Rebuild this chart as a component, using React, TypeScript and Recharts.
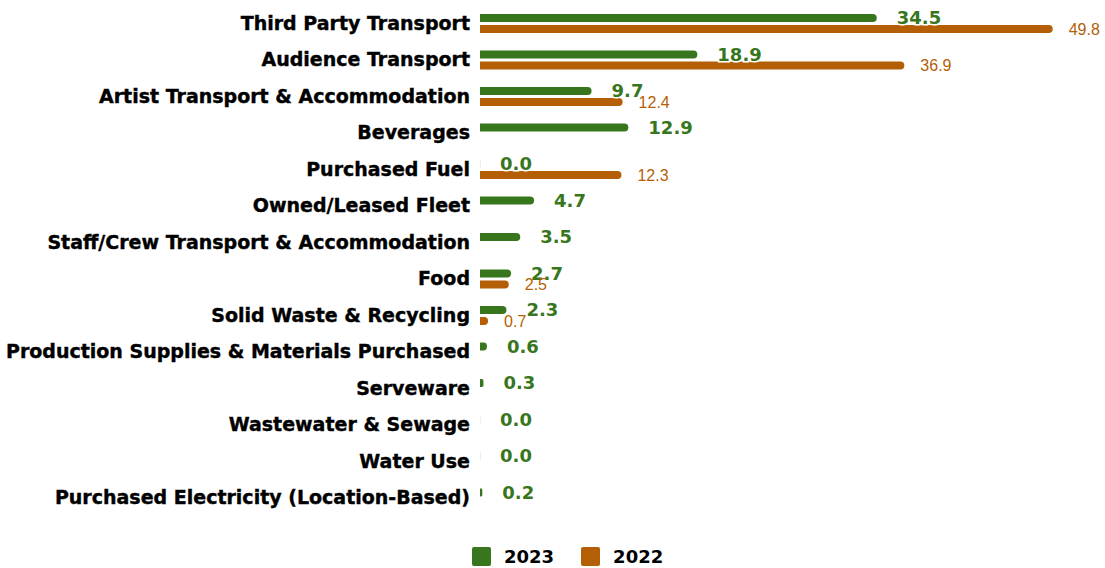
import React from 'react';
import { BarChart, Bar, XAxis, YAxis, Legend, LabelList } from 'recharts';

const categories = [
  'Third Party Transport',
  'Audience Transport',
  'Artist Transport & Accommodation',
  'Beverages',
  'Purchased Fuel',
  'Owned/Leased Fleet',
  'Staff/Crew Transport & Accommodation',
  'Food',
  'Solid Waste & Recycling',
  'Production Supplies & Materials Purchased',
  'Serveware',
  'Wastewater & Sewage',
  'Water Use',
  'Purchased Electricity (Location-Based)',
];

const values2023 = [34.5, 18.9, 9.7, 12.9, 0.0, 4.7, 3.5, 2.7, 2.3, 0.6, 0.3, 0.0, 0.0, 0.2];
const values2022 = [49.8, 36.9, 12.4, null, 12.3, null, null, 2.5, 0.7, null, null, null, null, null];

const legendOrder = ['2023', '2022'];

const GREEN = '#38761d';
const ORANGE = '#b45f06';
const BOLD_FONT = '"DejaVu Sans", sans-serif';

const chartData = categories.map((name, i) => ({
  name,
  y2023: values2023[i],
  y2022: values2022[i],
}));

const fmt = (v: any) => (v === null || v === undefined ? '' : Number(v).toFixed(1));

// zero values still need a (invisible) bar so the "0.0" label gets drawn
const zeroMin = (v: any) => (v === 0 ? 0.1 : 0);

const LegendContent = (props: any) => {
  const items = [...(props.payload || [])].sort(
    (a: any, b: any) => legendOrder.indexOf(a.value) - legendOrder.indexOf(b.value)
  );
  return (
    <div style={{ display: 'flex', justifyContent: 'flex-start', alignItems: 'center', gap: 27, paddingLeft: 472 }}>
      {items.map((entry: any) => (
        <div key={entry.value} style={{ display: 'flex', alignItems: 'center', gap: 13 }}>
          <span style={{ width: 19, height: 19, borderRadius: 2, background: entry.color, display: 'inline-block' }} />
          <span style={{ fontFamily: BOLD_FONT, fontWeight: 'bold', fontSize: 18, color: '#000' }}>{entry.value}</span>
        </div>
      ))}
    </div>
  );
};

export default function App() {
  return (
    <div style={{ position: 'absolute', left: 0, top: 0, background: '#fff' }}>
      <BarChart
        width={1105}
        height={568}
        data={chartData}
        layout="vertical"
        margin={{ top: 5, right: 50, left: 0, bottom: 31 }}
        barSize={8}
        barGap={3}
      >
        <XAxis type="number" domain={[0, 50]} hide />
        <YAxis
          type="category"
          dataKey="name"
          width={480}
          interval={0}
          axisLine={false}
          tickLine={false}
          tickMargin={4}
          tick={{ fill: '#000', fontSize: 19, fontWeight: 'bold', fontFamily: BOLD_FONT, stroke: '#000', strokeWidth: 0.4 }}
        />
        <Legend
          verticalAlign="bottom"
          content={<LegendContent />}
          wrapperStyle={{ top: 546, bottom: 'auto', left: 0, width: 1105 }}
        />
        <Bar dataKey="y2023" name="2023" fill={GREEN} radius={[0, 4, 4, 0]} minPointSize={zeroMin} isAnimationActive={false}>
          <LabelList
            dataKey="y2023"
            position="right"
            offset={20}
            formatter={fmt}
            style={{
              fill: GREEN,
              fontSize: 18,
              fontWeight: 'bold',
              fontFamily: BOLD_FONT,
              stroke: '#fff',
              strokeWidth: 3,
              paintOrder: 'stroke',
            }}
          />
        </Bar>
        <Bar dataKey="y2022" name="2022" fill={ORANGE} radius={[0, 4, 4, 0]} isAnimationActive={false}>
          <LabelList
            dataKey="y2022"
            position="right"
            offset={16}
            formatter={fmt}
            style={{ fill: ORANGE, fontSize: 16, fontFamily: '"Liberation Sans", Arial, sans-serif' }}
          />
        </Bar>
      </BarChart>
    </div>
  );
}
